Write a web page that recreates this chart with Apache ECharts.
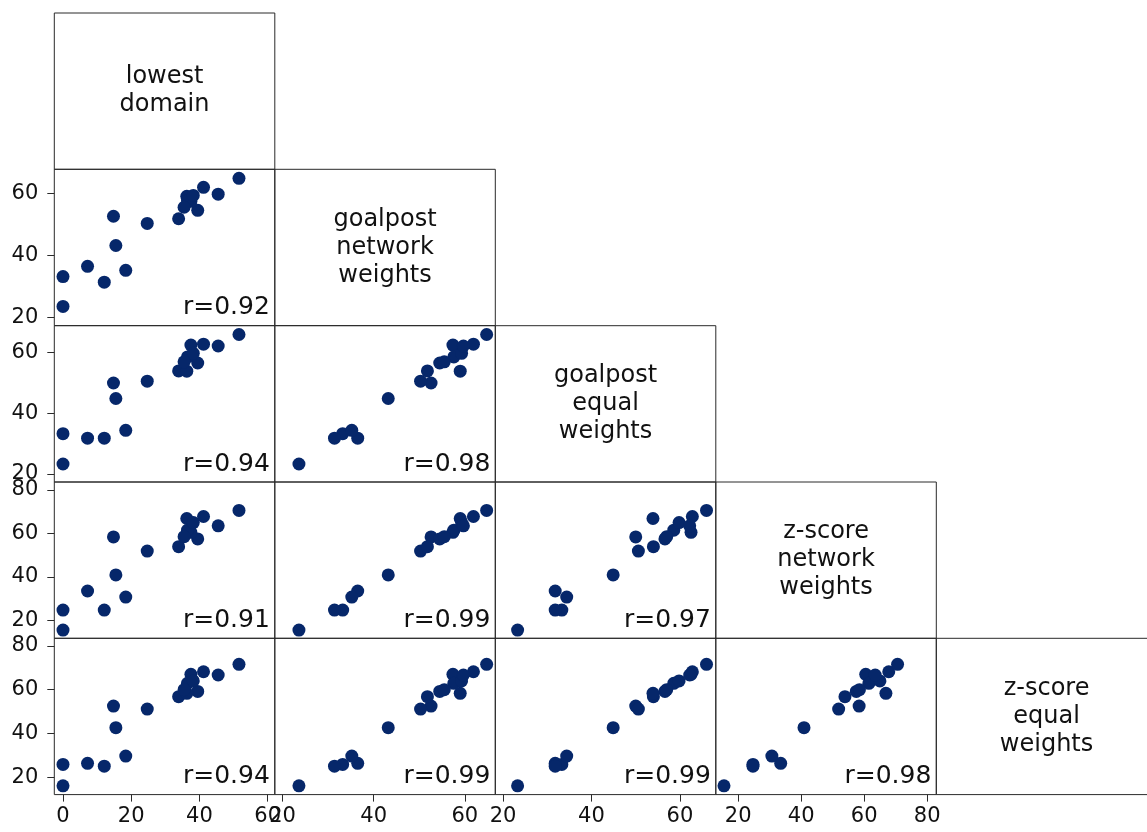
<!DOCTYPE html>
<html>
<head>
<meta charset="utf-8">
<script src="https://cdn.jsdelivr.net/npm/echarts@6/dist/echarts.min.js"></script>
<style>
  html, body { margin: 0; padding: 0; background: #fff; }
  #chart { width: 1147px; height: 832px; }
</style>
</head>
<body>
<div id="chart"></div>
<script>
// one value per observation, same order in every array
var lowestDomain    = [0, 0, 7.2, 12.1, 14.8, 15.5, 18.4, 24.7, 33.9, 39.5, 36.3, 37.5, 36.5, 38.2, 41.2, 45.5, 51.6, 35.5];
var goalpostNetwork = [23.6, 33.2, 36.5, 31.4, 52.6, 43.2, 35.2, 50.3, 51.8, 54.5, 59, 57.4, 57.6, 59.3, 61.9, 59.7, 64.8, 55.5];
var goalpostEqual   = [23.3, 33.3, 31.8, 31.8, 50, 44.9, 34.4, 50.6, 54, 56.6, 53.9, 62.5, 58.6, 59.8, 62.8, 62.2, 66, 57];
var zscoreNetwork   = [15.5, 24.7, 33.5, 24.7, 58.4, 40.9, 30.7, 51.9, 53.9, 57.5, 66.9, 60.5, 61.5, 65, 67.8, 63.5, 70.6, 58.5];
var zscoreEqual     = [16, 25.8, 26.3, 25, 52.5, 42.6, 29.6, 51.1, 56.8, 59.2, 58.3, 67, 62.9, 64, 68.2, 66.7, 71.6, 60];

var varNames = ['lowest\ndomain', 'goalpost\nnetwork\nweights', 'goalpost\nequal\nweights',
                'z-score\nnetwork\nweights', 'z-score\nequal\nweights'];
var tickValues = [[0, 20, 40, 60], [20, 40, 60], [20, 40, 60], [20, 40, 60, 80], [20, 40, 60, 80]];
// correlation labels, row by row (lower triangle)
var rLabels = [
  [],
  ['r=0.92'],
  ['r=0.94', 'r=0.98'],
  ['r=0.91', 'r=0.99', 'r=0.97'],
  ['r=0.94', 'r=0.99', 'r=0.99', 'r=0.98']
];

var vars = [lowestDomain, goalpostNetwork, goalpostEqual, zscoreNetwork, zscoreEqual];

// axis extents used when a variable is on x (columns) or on y (rows)
var xRange = [[-2.55, 62.1], [18.3, 66.7], [18.26, 68.1], [12.9, 82.9], [12, 83.5]];
var yRange = [[-2.5, 62], [17.43, 67.7], [17.36, 68.9], [11.71, 83.7], [11.98, 83.5]];

var colLeft = [54.3, 274.8, 495.3, 715.8, 936.3];
var rowTop = [13, 169.3, 325.7, 482, 638.3];
var cellW = 220.5, cellH = 156.3;
var FONT = 'DejaVu Sans';
var dotColor = '#06276a';
var lineColor = '#2a2a2a';

var grids = [], xAxes = [], yAxes = [], series = [], graphics = [];

for (var i = 0; i < 5; i++) {
  for (var j = 0; j <= i; j++) {
    var k = grids.length;
    var diag = (i === j);
    // last cell runs past the right edge of the picture, so its box is drawn by hand
    var lastCell = (i === 4 && j === 4);
    grids.push({
      left: colLeft[j], top: rowTop[i], width: cellW, height: cellH,
      show: !lastCell, borderColor: lineColor, borderWidth: 1
    });
    var showX = !diag && i === 4;
    var showY = !diag && j === 0;
    xAxes.push({
      gridIndex: k, type: 'value',
      min: xRange[j][0], max: xRange[j][1],
      axisLine: { show: false, onZero: false },
      splitLine: { show: false },
      axisTick: { show: showX, inside: false, length: 7, lineStyle: { color: lineColor },
                  customValues: tickValues[j] },
      axisLabel: { show: showX, customValues: tickValues[j], fontSize: 21, fontFamily: FONT,
                   color: '#111', margin: 11 }
    });
    yAxes.push({
      gridIndex: k, type: 'value',
      min: yRange[i][0], max: yRange[i][1],
      axisLine: { show: false, onZero: false },
      splitLine: { show: false },
      axisTick: { show: showY, inside: false, length: 7, lineStyle: { color: lineColor },
                  customValues: tickValues[i] },
      axisLabel: { show: showY, customValues: tickValues[i], fontSize: 21, fontFamily: FONT,
                   color: '#111', margin: 16 }
    });
    if (diag) {
      graphics.push({
        type: 'text', x: colLeft[j] + cellW / 2, y: rowTop[i] + cellH / 2,
        style: { text: varNames[i], align: 'center', verticalAlign: 'middle',
                 textAlign: 'center', textVerticalAlign: 'middle',
                 fontSize: 24, fontFamily: FONT, lineHeight: 28, fill: '#111' }
      });
    } else {
      var pts = [];
      for (var n = 0; n < vars[j].length; n++) pts.push([vars[j][n], vars[i][n]]);
      series.push({
        type: 'scatter', xAxisIndex: k, yAxisIndex: k,
        symbolSize: 13, itemStyle: { color: dotColor, opacity: 1 },
        data: pts, silent: true
      });
      graphics.push({
        type: 'text', x: colLeft[j] + cellW - 5, y: rowTop[i] + cellH - 18,
        style: { text: rLabels[i][j], align: 'right', verticalAlign: 'middle',
                 textAlign: 'right', textVerticalAlign: 'middle',
                 fontSize: 25, fontFamily: FONT, fill: '#111' }
      });
    }
  }
}

graphics.push({
  type: 'rect', shape: { x: colLeft[4], y: rowTop[4], width: 240, height: cellH },
  style: { fill: 'none', stroke: lineColor, lineWidth: 1 }, z: -1
});

var chart = echarts.init(document.getElementById('chart'), null, { renderer: 'canvas' });
chart.setOption({
  animation: false,
  backgroundColor: '#fff',
  grid: grids,
  xAxis: xAxes,
  yAxis: yAxes,
  series: series,
  graphic: graphics
});
</script>
</body>
</html>
